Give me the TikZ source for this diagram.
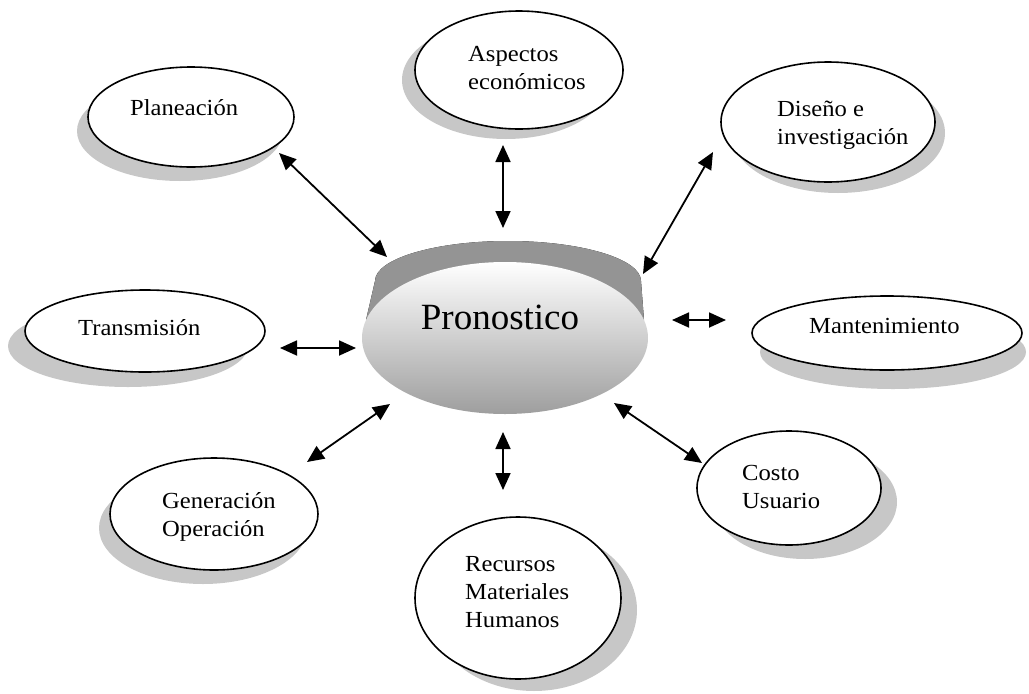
\documentclass[tikz,border=0pt]{standalone}
\usepackage{fontspec}
\setmainfont{Liberation Serif}
\newfontfamily\lblfont{Liberation Serif}[FakeStretch=1.07]
\usetikzlibrary{arrows.meta,shapes.geometric}
\begin{document}
\begin{tikzpicture}[x=1pt,y=-1pt,
  oval/.style={ellipse, draw=black, line width=1.6pt, fill=white, inner sep=0pt},
  shadowoval/.style={ellipse, fill=black!22, draw=none, inner sep=0pt},
  lbl/.style={font=\lblfont\fontsize{23}{28}\selectfont, align=left, inner sep=0pt, anchor=base west},
  link/.style={{Triangle[length=17pt,width=15pt]}-{Triangle[length=17pt,width=15pt]}, line width=1.8pt}
]
\useasboundingbox (0,0) rectangle (1029,694);

% shadows
\node[shadowoval, minimum width=206, minimum height=100] (sPlan) at (180,131) {};
\node[shadowoval, minimum width=208, minimum height=118] (sAsp) at (506,80) {};
\node[shadowoval, minimum width=214, minimum height=120] (sDis) at (838,133) {};
\node[shadowoval, minimum width=240, minimum height=82] (sTra) at (128,346) {};
\node[shadowoval, minimum width=266, minimum height=74] (sMan) at (893,352) {};
\node[shadowoval, minimum width=208, minimum height=112] (sGen) at (203,528) {};
\node[shadowoval, minimum width=206, minimum height=162] (sRec) at (534,610) {};
\node[shadowoval, minimum width=184, minimum height=114] (sCos) at (805,502) {};

% outer ellipses
\node[oval, minimum width=206, minimum height=100] (Plan) at (191,117) {};
\node[oval, minimum width=208, minimum height=118] (Asp) at (519,70) {};
\node[oval, minimum width=214, minimum height=120] (Dis) at (828,122) {};
\node[oval, minimum width=240, minimum height=82] (Tra) at (145,331) {};
\node[oval, minimum width=270, minimum height=74] (Man) at (887,333) {};
\node[oval, minimum width=208, minimum height=112] (Gen) at (214,514) {};
\node[oval, minimum width=206, minimum height=162] (Rec) at (518,598) {};
\node[oval, minimum width=184, minimum height=114] (Cos) at (789,488) {};

% labels (anchor = baseline of last line)
\node[lbl] (tPlan) at (130,115) {Planeación};
\node[lbl] (tAsp) at (468,89) {Aspectos\\económicos};
\node[lbl] (tDis) at (777,144) {Diseño e\\investigación};
\node[lbl] (tTra) at (78,335) {Transmisión};
\node[lbl] (tMan) at (809,333) {Mantenimiento};
\node[lbl] (tGen) at (162,536) {Generación\\Operación};
\node[lbl] (tRec) at (465,627) {Recursos\\Materiales\\Humanos};
\node[lbl] (tCos) at (742,508) {Costo\\Usuario};

% center: rim and face
\fill[left color=black!42, middle color=black!26, right color=black!42]
  (375,281) arc[start angle=180, end angle=0, x radius=133pt, y radius=40pt]
  -- (644,320) -- (366,320) -- cycle;
\node[ellipse, minimum width=286, minimum height=152, inner sep=0pt, top color=white, bottom color=black!38, draw=none] (P) at (505,338) {};
\node[font=\fontsize{37}{40}\selectfont, anchor=base, inner sep=0pt] (tP) at (500,329) {Pronostico};

% connectors
\coordinate (a1) at (279,153); \coordinate (b1) at (387,257);
\coordinate (a2) at (503,145); \coordinate (b2) at (503,228);
\coordinate (a3) at (713,152); \coordinate (b3) at (643,274);
\coordinate (a4) at (280,348); \coordinate (b4) at (356,348);
\coordinate (a5) at (672,320); \coordinate (b5) at (726,320);
\coordinate (a6) at (307,462); \coordinate (b6) at (390,404);
\coordinate (a7) at (503,432); \coordinate (b7) at (503,490);
\coordinate (a8) at (614,403); \coordinate (b8) at (702,463);
\foreach \i in {1,...,8} {\draw[link] (a\i) -- (b\i);}
\end{tikzpicture}
\end{document}
